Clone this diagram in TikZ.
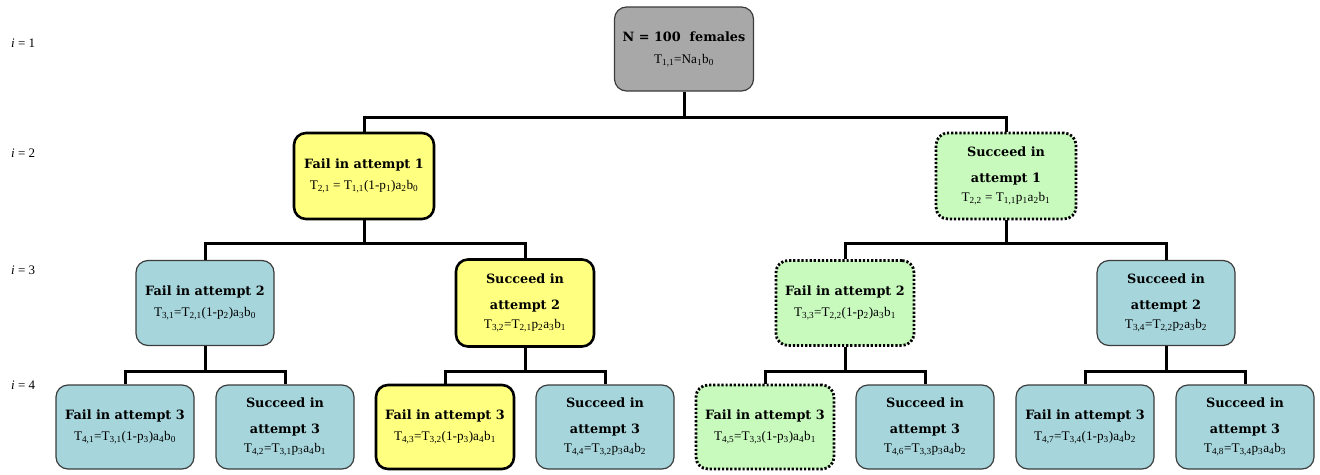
\documentclass[tikz,border=0pt]{standalone}
\usepackage{fontspec}
\setmainfont{Liberation Serif}
\newfontfamily\ttlfont{DejaVu Serif}
\definecolor{boxblue}{RGB}{166,214,220}
\definecolor{boxyellow}{RGB}{255,255,128}
\definecolor{boxgreen}{RGB}{200,250,190}
\definecolor{boxgray}{RGB}{168,168,168}
\definecolor{edgegray}{RGB}{60,60,60}
\newcommand\sbs[1]{\textsubscript{#1}}
\newcommand\frm[1]{{\normalfont\fontsize{13.2}{16}\selectfont #1}}
\tikzset{
  box/.style={rounded corners=12pt, minimum width=138pt, minimum height=84pt, align=center, inner sep=2pt,
    font=\ttlfont\fontsize{12.8}{26}\selectfont\bfseries},
  bluebox/.style={box, fill=boxblue, draw=edgegray, line width=1.2pt},
  graybox/.style={box, fill=boxgray, draw=edgegray, line width=1.2pt},
  yelbox/.style={box, fill=boxyellow, draw=black, line width=2.6pt},
  grnbox/.style={box, fill=boxgreen, draw=black, line width=2.8pt, dash pattern=on 2.2pt off 1.9pt},
  conn/.style={draw=black, line width=3pt},
  lvl/.style={font=\fontsize{13}{15}\selectfont, anchor=west, inner sep=0pt}
}
\begin{document}
\begin{tikzpicture}[x=1pt,y=-1pt]
\useasboundingbox (0,0) rectangle (1320,474);
% level labels
\node[lvl] (l1) at (11,43) {\textit{i} = 1};
\node[lvl] (l2) at (11,153) {\textit{i} = 2};
\node[lvl] (l3) at (11,270) {\textit{i} = 3};
\node[lvl] (l4) at (11,385) {\textit{i} = 4};
% root
\node[graybox, minimum width=139pt] (root) at (684,49) {N = 100~~females\\[-4pt]\frm{T\sbs{1,1}=Na\sbs{1}b\sbs{0}}};
% level 2
\node[yelbox, minimum width=140pt, minimum height=86pt] (n21) at (364,176) {Fail in attempt 1\\[-5pt]\frm{T\sbs{2,1} = T\sbs{1,1}(1-p\sbs{1})a\sbs{2}b\sbs{0}}};
\node[grnbox, minimum width=140pt, minimum height=86pt] (n22) at (1006,176) {Succeed in\\attempt 1\\[-7pt]\frm{T\sbs{2,2} = T\sbs{1,1}p\sbs{1}a\sbs{2}b\sbs{1}}};
% level 3
\node[bluebox, minimum height=85pt] (n31) at (205,303) {Fail in attempt 2\\[-5pt]\frm{T\sbs{3,1}=T\sbs{2,1}(1-p\sbs{2})a\sbs{3}b\sbs{0}}};
\node[yelbox, minimum height=87pt] (n32) at (525,303) {Succeed in\\attempt 2\\[-7pt]\frm{T\sbs{3,2}=T\sbs{2,1}p\sbs{2}a\sbs{3}b\sbs{1}}};
\node[grnbox, minimum height=85pt] (n33) at (845,303) {Fail in attempt 2\\[-5pt]\frm{T\sbs{3,3}=T\sbs{2,2}(1-p\sbs{2})a\sbs{3}b\sbs{1}}};
\node[bluebox, minimum height=85pt] (n34) at (1166,303) {Succeed in\\attempt 2\\[-7pt]\frm{T\sbs{3,4}=T\sbs{2,2}p\sbs{2}a\sbs{3}b\sbs{2}}};
% level 4
\node[bluebox] (n41) at (125,427) {Fail in attempt 3\\[-5pt]\frm{T\sbs{4,1}=T\sbs{3,1}(1-p\sbs{3})a\sbs{4}b\sbs{0}}};
\node[bluebox] (n42) at (285,427) {Succeed in\\attempt 3\\[-7pt]\frm{T\sbs{4,2}=T\sbs{3,1}p\sbs{3}a\sbs{4}b\sbs{1}}};
\node[yelbox] (n43) at (445,427) {Fail in attempt 3\\[-5pt]\frm{T\sbs{4,3}=T\sbs{3,2}(1-p\sbs{3})a\sbs{4}b\sbs{1}}};
\node[bluebox] (n44) at (605,427) {Succeed in\\attempt 3\\[-7pt]\frm{T\sbs{4,4}=T\sbs{3,2}p\sbs{3}a\sbs{4}b\sbs{2}}};
\node[grnbox] (n45) at (765,427) {Fail in attempt 3\\[-5pt]\frm{T\sbs{4,5}=T\sbs{3,3}(1-p\sbs{3})a\sbs{4}b\sbs{1}}};
\node[bluebox] (n46) at (925,427) {Succeed in\\attempt 3\\[-7pt]\frm{T\sbs{4,6}=T\sbs{3,3}p\sbs{3}a\sbs{4}b\sbs{2}}};
\node[bluebox] (n47) at (1085,427) {Fail in attempt 3\\[-5pt]\frm{T\sbs{4,7}=T\sbs{3,4}(1-p\sbs{3})a\sbs{4}b\sbs{2}}};
\node[bluebox] (n48) at (1245,427) {Succeed in\\attempt 3\\[-7pt]\frm{T\sbs{4,8}=T\sbs{3,4}p\sbs{3}a\sbs{4}b\sbs{3}}};
% bus levels
\coordinate (h1) at (0,117);
\coordinate (h2) at (0,243);
\coordinate (h3) at (0,371);
% connectors
\draw[conn] (root.south) -- (root.south |- h1);
\draw[conn] (n21.north) -- (n21.north |- h1) -- (n22.north |- h1) -- (n22.north);
\draw[conn] (n21.south) -- (n21.south |- h2);
\draw[conn] (n31.north) -- (n31.north |- h2) -- (n32.north |- h2) -- (n32.north);
\draw[conn] (n22.south) -- (n22.south |- h2);
\draw[conn] (n33.north) -- (n33.north |- h2) -- (n34.north |- h2) -- (n34.north);
\draw[conn] (n31.south) -- (n31.south |- h3);
\draw[conn] (n41.north) -- (n41.north |- h3) -- (n42.north |- h3) -- (n42.north);
\draw[conn] (n32.south) -- (n32.south |- h3);
\draw[conn] (n43.north) -- (n43.north |- h3) -- (n44.north |- h3) -- (n44.north);
\draw[conn] (n33.south) -- (n33.south |- h3);
\draw[conn] (n45.north) -- (n45.north |- h3) -- (n46.north |- h3) -- (n46.north);
\draw[conn] (n34.south) -- (n34.south |- h3);
\draw[conn] (n47.north) -- (n47.north |- h3) -- (n48.north |- h3) -- (n48.north);
\end{tikzpicture}
\end{document}
